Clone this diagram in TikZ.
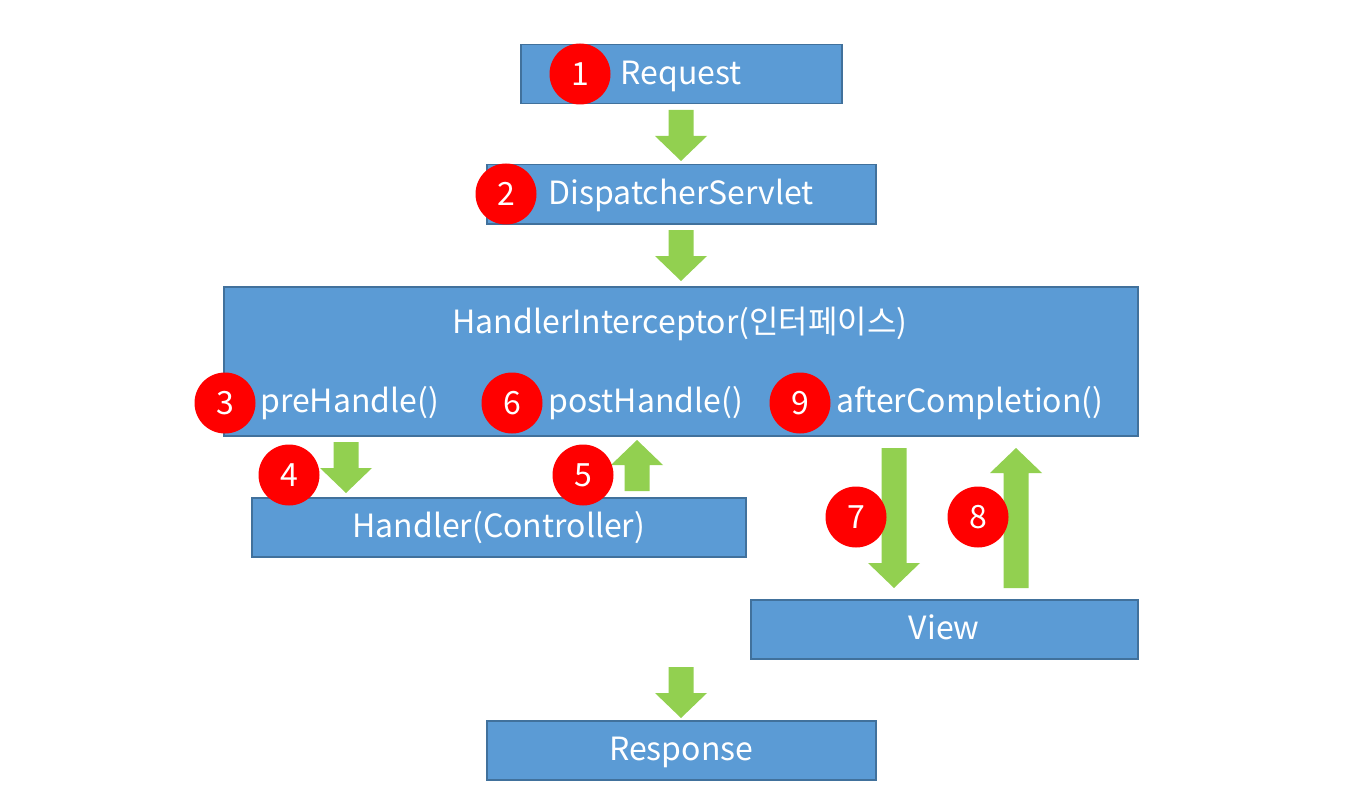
\documentclass[tikz,border=0pt]{standalone}
\usepackage{fontspec}
\setmainfont{Noto Sans CJK KR}
\definecolor{boxblue}{HTML}{5B9BD5}
\definecolor{boxedge}{HTML}{41719C}
\definecolor{flowgreen}{HTML}{92D050}
\definecolor{stepred}{HTML}{FF0000}
% block arrow: centre x, base y, head-start y, tip y
\newcommand\greenflow[4]{%
  \fill[flowgreen] ({#1-12.5},#2) -- ({#1+12.5},#2) -- ({#1+12.5},#3) -- ({#1+26},#3)
    -- (#1,#4) -- ({#1-26},#3) -- ({#1-12.5},#3) -- cycle;}
\begin{document}
\begin{tikzpicture}[x=1pt,y=-1pt,
  box/.style={draw=boxedge,fill=boxblue,line width=1.5pt,inner sep=0pt,
    anchor=north west,text=white,text height=25pt,text depth=4pt,
    font=\fontsize{32}{36}\selectfont},
  lbl/.style={text=white,inner sep=0pt,font=\fontsize{32}{36}\selectfont},
  stepnum/.style={circle,fill=stepred,minimum size=61pt,inner sep=0pt,
    text=white,font=\fontsize{32}{36}\selectfont}]
\useasboundingbox[fill=white] (0,0) rectangle (1362,805);

% boxes
\node[box,minimum width=321pt,minimum height=59pt] (req) at (520,44) {Request};
\node[box,minimum width=389pt,minimum height=59pt] (disp) at (486,164) {DispatcherServlet};
\node[box,minimum width=914pt,minimum height=149pt] (hi) at (223,286) {};
\node[box,minimum width=494pt,minimum height=59pt] (hc) at (251,497) {Handler(Controller)};
\node[box,minimum width=387pt,minimum height=59pt] (view) at (750,599) {View};
\node[box,minimum width=389pt,minimum height=59pt] (resp) at (486,720) {Response};

% labels inside the interceptor box
\node[lbl,anchor=base] (hititle) at (680,333) {HandlerInterceptor(인터페이스)};
\node[lbl,anchor=base west] (pre) at (260,412) {preHandle()};
\node[lbl,anchor=base west] (post) at (548,412) {postHandle()};
\node[lbl,anchor=base west] (after) at (836,412) {afterCompletion()};

% flow arrows
\greenflow{681}{110}{136}{161}
\greenflow{681}{230}{256}{281}
\greenflow{346}{442}{468}{493}
\greenflow{637}{491}{465}{440}
\greenflow{894}{448}{563}{588}
\greenflow{1016}{588}{473}{448}
\greenflow{681}{667}{693}{718}

% step numbers
\node[stepnum] (s1) at (580,74) {1};
\node[stepnum] (s2) at (506,194) {2};
\node[stepnum] (s3) at (225,403) {3};
\node[stepnum] (s4) at (289,475) {4};
\node[stepnum] (s5) at (583,475) {5};
\node[stepnum] (s6) at (512,403) {6};
\node[stepnum] (s7) at (856,517) {7};
\node[stepnum] (s8) at (978,517) {8};
\node[stepnum] (s9) at (800,403) {9};
\end{tikzpicture}
\end{document}
